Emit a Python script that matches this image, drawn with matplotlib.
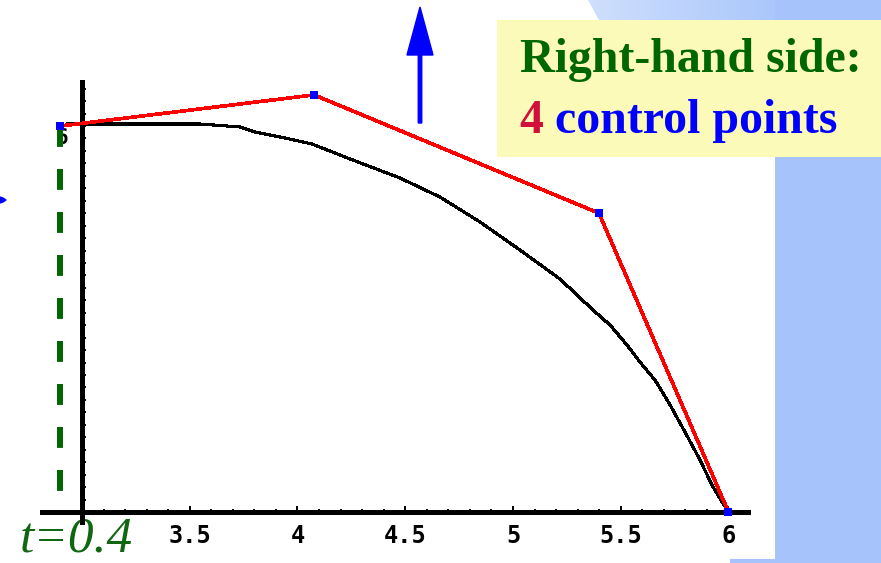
"""
Right-hand side of a subdivided Bezier curve at t=0.4:
original curve (black) with the 4 control points of the right half (red polygon).
"""
import numpy as np
import matplotlib.pyplot as plt
from matplotlib.patches import Rectangle, Polygon, FancyArrow
from matplotlib.colors import LinearSegmentedColormap

# control polygon of the right half (blue markers, red polyline)
ctrl_x = [2.898, 4.077, 5.399, 6.0]
ctrl_y = [6.20, 6.70, 4.80, 0.0]

# the curve itself
curve_x = [2.935, 3.548, 3.733, 3.803, 3.942, 4.067, 4.244, 4.476, 4.661, 4.847,
           5.032, 5.218, 5.297, 5.371, 5.450, 5.529, 5.589, 5.659, 5.729, 5.798,
           5.868, 5.923, 5.970, 5.998]
curve_y = [6.233, 6.233, 6.185, 6.104, 6.008, 5.912, 5.671, 5.365, 5.060, 4.659,
           4.209, 3.743, 3.486, 3.245, 3.004, 2.683, 2.410, 2.120, 1.719, 1.285,
           0.835, 0.434, 0.161, 0.016]

t_split = 0.4
x_major = [3.5, 4.0, 4.5, 5.0, 5.5, 6.0]
x_labels = ["3.5", "4", "4.5", "5", "5.5", "6"]

W, H = 881, 563
fig = plt.figure(figsize=(W / 100, H / 100), dpi=100)

# --- slide decoration, in pixel coordinates ---
deco = fig.add_axes([0, 0, 1, 1])
deco.set_xlim(0, W)
deco.set_ylim(H, 0)
deco.axis("off")

blue = "#A6C4FB"
grad = np.linspace(0, 1, 256).reshape(1, -1)
band = Polygon([(588, 0), (W, 0), (W, 22), (600, 22)], closed=True,
               facecolor="none", edgecolor="none")
deco.add_patch(band)
cmap = LinearSegmentedColormap.from_list("slide", ["#CFDFFD", blue])
im = deco.imshow(grad, cmap=cmap, extent=(588, 800, 22, 0), aspect="auto", zorder=0)
im.set_clip_path(band)
deco.add_patch(Rectangle((780, 0), W - 780, 22, facecolor=blue, edgecolor="none", zorder=0))
deco.add_patch(Rectangle((775, 0), W - 775, 560, facecolor=blue, edgecolor="none", zorder=0))
deco.add_patch(Rectangle((730, 559), W - 730, 4, facecolor=blue, edgecolor="none", zorder=0))

# yellow callout
deco.add_patch(Rectangle((497, 20), W - 497, 137, facecolor="#FBFAB9",
                         edgecolor="none", zorder=1))
serif = ["Liberation Serif", "DejaVu Serif"]
deco.text(520, 72, "Right-hand side:", color="#006600", fontsize=34.5,
          fontweight="bold", family=serif, va="baseline", ha="left", zorder=2)
deco.text(519, 133, "4", color="#D0103A", fontsize=34.5,
          fontweight="bold", family=serif, va="baseline", ha="left", zorder=2)
deco.text(555, 133, "control points", color="#0000FF", fontsize=34.5,
          fontweight="bold", family=serif, va="baseline", ha="left", zorder=2)

# blue arrows
deco.add_patch(FancyArrow(420, 123, 0, -116, width=3.5, head_width=26,
                          head_length=48, length_includes_head=True,
                          color="#0000FF", zorder=2))
deco.add_patch(Polygon([(0, 197), (3, 198), (6, 200), (3, 202), (0, 203)],
                       closed=True, color="#0000FF", zorder=2))

deco.text(20, 562, f"t={t_split}", color="#116611", fontsize=37,
          fontstyle="italic", family=serif, va="bottom", ha="left", zorder=2)

# --- the plot itself ---
ax = fig.add_axes([0, 0, 1, 1])
ax.set_facecolor("none")
ax.set_xlim(2.6195, 6.7077)
ax.set_ylim(-0.8193, 8.2249)

for side in ("top", "right"):
    ax.spines[side].set_visible(False)
ax.spines["left"].set_position(("data", 3.0))
ax.spines["bottom"].set_position(("data", 0.0))
ax.spines["left"].set_bounds(-0.16, 6.91)
ax.spines["bottom"].set_bounds(2.814, 6.09)
for side in ("left", "bottom"):
    ax.spines[side].set_linewidth(2.2)
    ax.spines[side].set_antialiased(False)

ax.set_xticks(x_major)
ax.set_xticklabels(x_labels)
minor = [v for v in np.round(np.arange(3.1, 6.01, 0.1), 2) if v not in x_major]
ax.set_xticks(minor, minor=True)
ax.set_yticks(np.round(np.arange(0.2, 6.81, 0.2), 2))
ax.set_yticklabels([])
ax.tick_params(axis="x", which="major", direction="in", length=4.5, width=1.4, pad=9,
               labelsize=17)
ax.tick_params(axis="x", which="minor", direction="in", length=2.2, width=1.4)
ax.tick_params(axis="y", direction="in", length=3, width=1.4)
for lab in ax.get_xticklabels():
    lab.set_family("DejaVu Sans Mono")
    lab.set_fontweight("bold")

# partly hidden y label
ax.text(2.935, 6.0, "6", family="DejaVu Sans Mono", fontweight="bold", fontsize=15,
        ha="right", va="center", zorder=1)

ax.plot([ctrl_x[0], ctrl_x[0]], [ctrl_y[0], -0.02], color="#006600", lw=4.3,
        dashes=(3.5, 3.7), solid_capstyle="butt", dash_capstyle="butt", zorder=2)
ax.plot(curve_x, curve_y, color="black", lw=1.5, antialiased=False, zorder=3)
ax.plot(ctrl_x, ctrl_y, color="#FF0000", lw=1.9, antialiased=False, zorder=4)
ax.plot(ctrl_x, ctrl_y, ls="none", marker="s", ms=6, color="#0000FF",
        markeredgewidth=0, zorder=5)

fig.savefig("out.png", dpi=100)
